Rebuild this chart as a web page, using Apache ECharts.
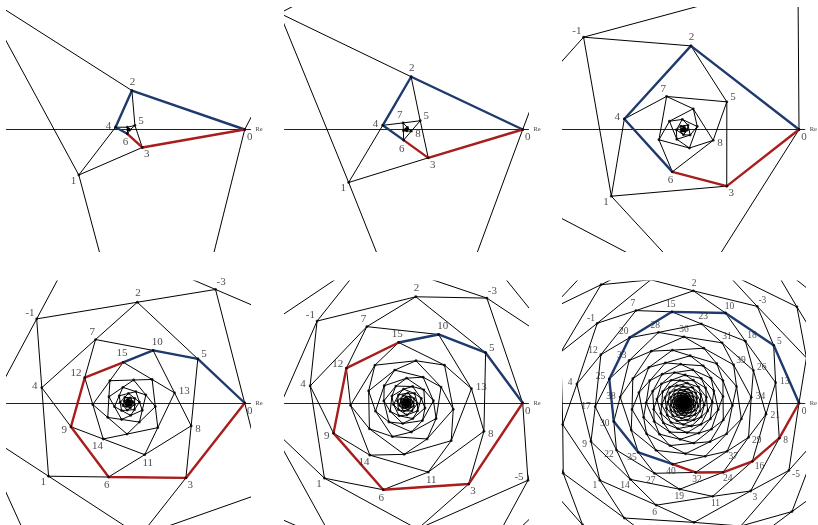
<!DOCTYPE html>
<html>
<head>
<meta charset="utf-8">
<script src="https://cdn.jsdelivr.net/npm/echarts@6/dist/echarts.min.js"></script>
<style>
  html, body { margin: 0; padding: 0; background: #fff; }
  #chart { width: 818px; height: 525px; }
</style>
</head>
<body>
<div id="chart"></div>
<script>
// Golden-angle point lattice z_n = rho^n * exp(-i n alpha), z_0 = 1 on the real axis.
// Each panel uses one value of rho; two parastichy families (steps) are drawn as chains.
const goldenAngleDeg = 137.5077640500378;
const rhoValues   = [0.58, 0.675, 0.85, 0.933, 0.958, 0.9845];
const blueSteps   = [2, 2, 2, 5, 5, 5];
const redSteps    = [3, 3, 3, 3, 3, 8];
const indexFrom   = [-8, -10, -16, -40, -60, -90];
const indexTo     = [60, 80, 160, 400, 500, 900];
const panel1Labels = [0, 1, 2, 3, 4, 5, 6];
const panel2Labels = [0, 1, 2, 3, 4, 5, 6, 7, 8];
const panel3Labels = [-1, 0, 1, 2, 3, 4, 5, 6, 7, 8];
const panel4Labels = [-3, -1, 0, 1, 2, 3, 4, 5, 6, 7, 8, 9, 10, 11, 12, 13, 14, 15];
const panel5Labels = [-5, -3, -1, 0, 1, 2, 3, 4, 5, 6, 7, 8, 9, 10, 11, 12, 13, 14, 15];
const panel6Labels = [-5, -3, -1, 0, 1, 2, 3, 4, 5, 6, 7, 8, 9, 10, 11, 12, 13, 14, 15, 16,
  17, 18, 19, 20, 21, 22, 23, 24, 25, 26, 27, 28, 29, 30, 31, 32, 33, 34, 35, 36, 37, 38, 39, 40];
const labelSets = [panel1Labels, panel2Labels, panel3Labels, panel4Labels, panel5Labels, panel6Labels];

// layout (pixels) and styling
const colCenters = [128.5, 406.5, 684.5];
const rowCenters = [129.5, 403];
const HALF = 122;          // half size of a panel square
const WIN = 1.05;          // visible half-range in the complex plane
const labelFontSizes = [11, 11, 11, 11, 11, 9.5];
const FONT = 'Liberation Serif';
const BLUE = '#1f3b6e';
const RED = '#a91d1d';
const INK = '#000';
// hand-placed label offsets where the radial rule collides with lines or the frame
const labelNudges = { '4:-5': [-9, -3] };

function zPoint(p, n) {
  const r = Math.pow(rhoValues[p], n);
  const a = -n * goldenAngleDeg * Math.PI / 180;
  return [r * Math.cos(a), r * Math.sin(a)];
}

const grids = [], xAxes = [], yAxes = [], series = [];

for (let p = 0; p < 6; p++) {
  const cx = colCenters[p % 3], cy = rowCenters[Math.floor(p / 3)];
  grids.push({ left: cx - HALF, top: cy - HALF, width: 2 * HALF, height: 2 * HALF, containLabel: false });
  xAxes.push({
    gridIndex: p, type: 'value', min: -WIN, max: WIN,
    axisLine: { show: true, onZero: true, lineStyle: { color: '#222', width: 1 } },
    axisTick: { show: false }, axisLabel: { show: false }, splitLine: { show: false },
    name: 'Re', nameLocation: 'end', nameGap: 5,
    nameTextStyle: { fontFamily: FONT, fontSize: 6.5, color: '#444', verticalAlign: 'middle' },
    z: 0
  });
  yAxes.push({
    gridIndex: p, type: 'value', min: -WIN, max: WIN,
    axisLine: { show: false }, axisTick: { show: false }, axisLabel: { show: false }, splitLine: { show: false }
  });

  const common = {
    xAxisIndex: p, yAxisIndex: p, silent: true, animation: false, clip: true
  };

  // parastichy chains: every n joined to n + step
  [blueSteps[p], redSteps[p]].forEach(step => {
    for (let r = 0; r < step; r++) {
      const pts = [];
      for (let n = indexFrom[p]; n <= indexTo[p]; n++) {
        if (((n - r) % step + step) % step === 0) pts.push(zPoint(p, n));
      }
      series.push(Object.assign({
        type: 'line', data: pts, symbol: 'none', showSymbol: false,
        lineStyle: { color: INK, width: 1 }, z: 2
      }, common));
    }
  });

  // highlighted paths from 0 to blueStep*redStep
  const meet = blueSteps[p] * redSteps[p];
  [[blueSteps[p], BLUE], [redSteps[p], RED]].forEach(([step, color]) => {
    const pts = [];
    for (let n = 0; n <= meet; n += step) pts.push(zPoint(p, n));
    series.push(Object.assign({
      type: 'line', data: pts, symbol: 'none', showSymbol: false,
      lineStyle: { color: color, width: 2.4, cap: 'round', join: 'round' }, z: 3
    }, common));
  });

  // vertex dots
  const labels = labelSets[p];
  const dots = [];
  for (let n = indexFrom[p]; n <= indexTo[p]; n++) {
    if (labels.indexOf(n) >= 0) continue;
    const z = zPoint(p, n);
    if (Math.abs(z[0]) <= WIN && Math.abs(z[1]) <= WIN) dots.push(z);
  }
  series.push(Object.assign({
    type: 'scatter', data: dots, symbol: 'circle', symbolSize: 2.8,
    itemStyle: { color: INK }, z: 4
  }, common));

  // numbered vertices, labels set radially outward from the origin
  const fs = labelFontSizes[p];
  const labelled = labels.map(n => {
    const z = zPoint(p, n);
    const th = -n * goldenAngleDeg * Math.PI / 180;
    const txt = String(n);
    const w = fs * 0.5 * txt.replace('-', '').length + (n < 0 ? fs * 0.33 : 0);
    let off = [Math.cos(th) * (4.5 + w / 2), -Math.sin(th) * (fs * 0.8)];
    if (n === 0) off = [5, 8];
    const key = p + ':' + n;
    if (labelNudges[key]) off = labelNudges[key];
    return { value: z, name: txt, label: { offset: off } };
  });
  series.push(Object.assign({
    type: 'scatter', data: labelled, symbol: 'circle', symbolSize: 2.8,
    itemStyle: { color: INK }, z: 5,
    label: {
      show: true, position: 'inside', formatter: d => d.name,
      fontFamily: FONT, fontSize: fs, color: '#222', align: 'center', verticalAlign: 'middle'
    }
  }, common));
}

const chart = echarts.init(document.getElementById('chart'), null, { renderer: 'canvas' });
chart.setOption({
  backgroundColor: '#fff',
  animation: false,
  grid: grids,
  xAxis: xAxes,
  yAxis: yAxes,
  series: series
});
</script>
</body>
</html>
